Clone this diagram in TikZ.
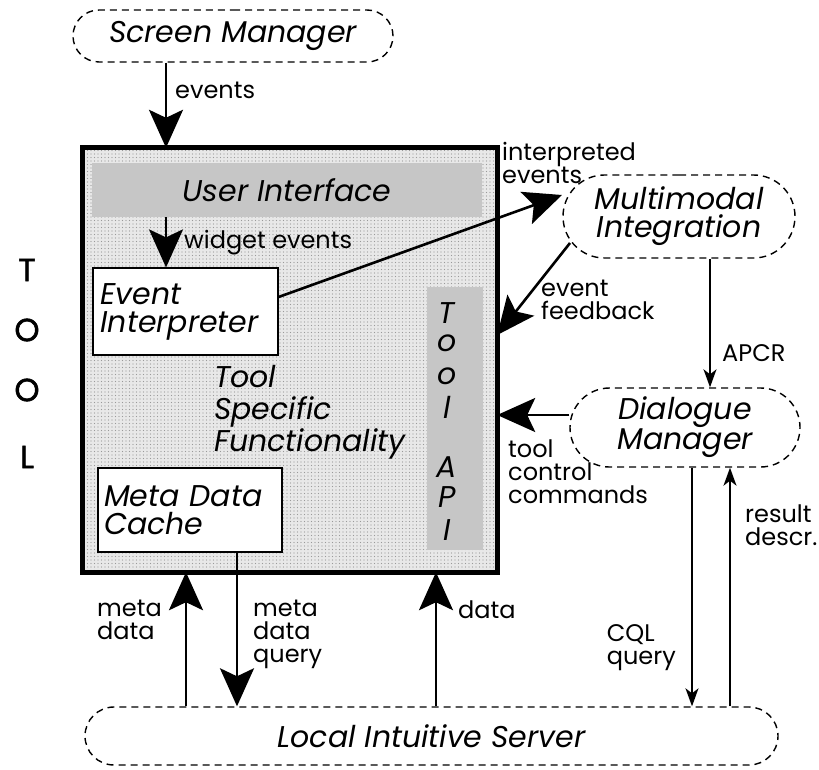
\documentclass[tikz,border=0pt]{standalone}
\usepackage{fontspec}
\setmainfont{Poppins}
\newfontfamily\sidefont[FakeBold=1.5]{Poppins}
\usetikzlibrary{arrows.meta,shapes.misc,patterns.meta,calc}

\tikzset{
  main/.style={font=\fontsize{30}{28}\selectfont\itshape, align=center},
  lbl/.style={font=\fontsize{24}{23}\selectfont, align=left, inner sep=0pt},
  cloud/.style={rounded rectangle, draw, dashed, dash pattern=on 7pt off 5pt,
    line width=1.4pt, inner sep=0pt, main},
  whitebox/.style={rectangle, draw, fill=white, line width=1.2pt, inner sep=0pt,
    font=\fontsize{30}{28}\selectfont\itshape, align=left},
  band/.style={rectangle, fill=gray!45, draw=none, inner sep=0pt},
  bigarrow/.style={line width=2.6pt, -{Stealth[length=38pt,width=34pt,inset=8pt]}},
  thinarrow/.style={line width=1.5pt, -{Stealth[length=18pt,width=13pt,inset=5pt]}},
}

\begin{document}
\begin{tikzpicture}[x=1pt,y=-1pt]
\useasboundingbox (0,0) rectangle (819,770);

% outer tool box with stippled interior
\node[rectangle, minimum width=414pt, minimum height=424pt, inner sep=0pt,
      fill=gray!18] (tool) at (290,360) {};
\fill[pattern={Dots[distance=3.5pt,radius=0.6pt]}, pattern color=gray!80]
  (tool.south west) rectangle (tool.north east);
\draw[line width=5pt] (tool.south west) rectangle (tool.north east);

% inner bands
\node[band, minimum width=390pt, minimum height=54pt] (ui) at (287,190) {};
\node[main] at (ui.center) {User Interface};
\node[band, minimum width=56pt, minimum height=263pt] (api) at (455,418.5) {};
\foreach \ch/\yy in {T/313, o/343, o/376, l/407, A/467, P/497, I/530}
  \node[font=\fontsize{30}{28}\selectfont\itshape] at (447,\yy) {\ch};

% inner boxes
\node[whitebox, minimum width=185pt, minimum height=87pt, text width=170pt]
  (ei) at (185.5,311.5) {Event\\Interpreter};
\node[whitebox, minimum width=184pt, minimum height=84pt, text width=172pt]
  (mdc) at (190,510) {Meta Data\\Cache};
\node[font=\fontsize{30}{32}\selectfont\itshape, align=left, anchor=west,
      inner sep=0pt] (tsf) at (214,412) {Tool\\Specific\\Functionality};

% outside components
\node[cloud, minimum width=320pt, minimum height=52pt] (sm) at (233,36) {Screen Manager};
\node[cloud, minimum width=232pt, minimum height=83pt] (mmi) at (679,216.5) {Multimodal\\Integration};
\node[cloud, minimum width=230pt, minimum height=79pt] (dm) at (685,427.5) {Dialogue\\Manager};
\node[cloud, minimum width=693pt, minimum height=58pt] (lis) at (431.5,736) {Local Intuitive Server};

% TOOL side label
\foreach \ch/\yy in {T/270, O/330, O/390, L/457}
  \node[font=\fontsize{32}{34}\sidefont] at (27,\yy) {\ch};

% helper coordinates for connector positions
\coordinate (xe) at (166,0);
\coordinate (xa) at (710,0);
\coordinate (xm) at (186,0);
\coordinate (xq) at (237,0);
\coordinate (xd) at (436,0);
\coordinate (xc) at (692,0);
\coordinate (xr) at (730,0);
\coordinate (yi) at (0,297);
\coordinate (yfb) at (0,335);
\coordinate (ytc) at (0,415);
\coordinate (mmin) at (562,195);
\coordinate (mmout) at (570,243);

% connectors
\draw[bigarrow] (sm.south -| xe) -- (tool.north -| xe);
\draw[bigarrow] (ui.south -| xe) -- (ei.north -| xe);
\draw[bigarrow] (ei.east |- yi) -- (mmin);
\draw[bigarrow] (mmout) -- (tool.east |- yfb);
\draw[bigarrow] (dm.west |- ytc) -- (tool.east |- ytc);
\draw[thinarrow] (mmi.south -| xa) -- (dm.north -| xa);
\draw[bigarrow] (lis.north -| xm) -- (tool.south -| xm);
\draw[bigarrow] (mdc.south -| xq) -- (lis.north -| xq);
\draw[bigarrow] (lis.north -| xd) -- (tool.south -| xd);
\draw[thinarrow] (dm.south -| xc) -- (lis.north -| xc);
\draw[thinarrow] (lis.north -| xr) -- (dm.south -| xr);

% connector labels
\node[lbl, anchor=west] at (175,90) {events};
\node[lbl, anchor=west] at (184,243) {widget events};
\node[lbl, anchor=south west] at (502,184) {interpreted\\events};
\node[lbl, anchor=west] at (541,300) {event\\feedback};
\node[lbl, anchor=west] at (722,353) {APCR};
\node[lbl, anchor=north west] at (508,440) {tool\\control\\commands};
\node[lbl, anchor=west] at (97,620) {meta\\data};
\node[lbl, anchor=north west] at (253,600) {meta\\data\\query};
\node[lbl, anchor=west] at (458,610) {data};
\node[lbl, anchor=east, align=left] at (676,648) {CQL\\query};
\node[lbl, anchor=west] at (745,525) {result\\descr.};
\end{tikzpicture}
\end{document}
